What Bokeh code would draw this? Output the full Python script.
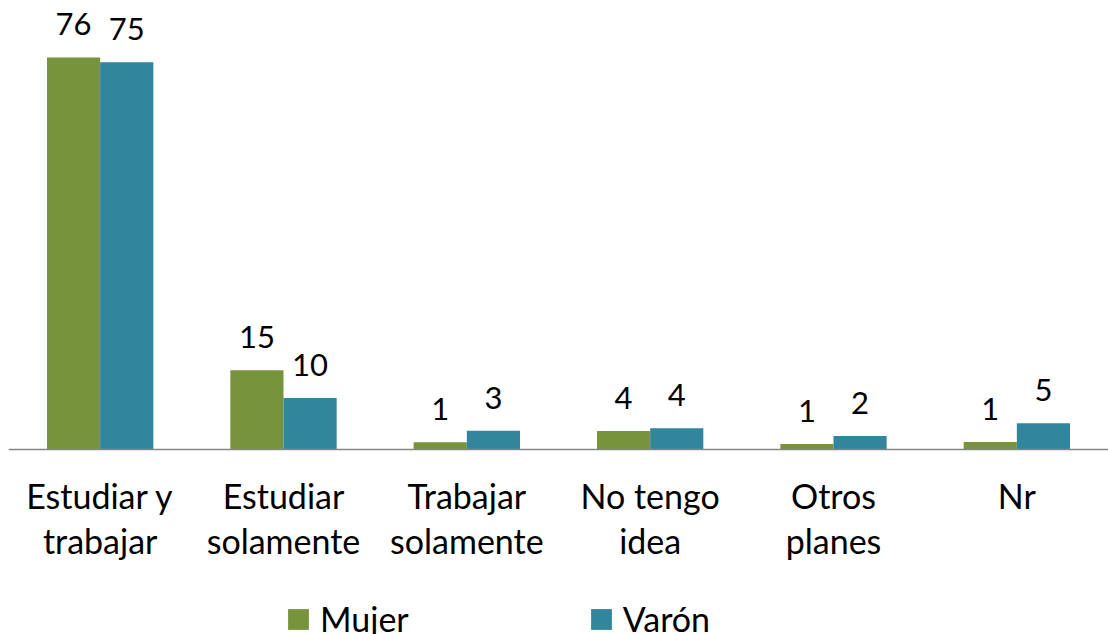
from bokeh.plotting import figure
from bokeh.models import ColumnDataSource, FactorRange, Range1d, Legend, LegendItem, CategoricalAxis
from bokeh.transform import dodge
from bokeh.core.properties import value
from bokeh.embed import file_html
from bokeh.resources import INLINE

categories = ["Estudiar y\ntrabajar", "Estudiar\nsolamente", "Trabajar\nsolamente",
              "No tengo\nidea", "Otros\nplanes", "Nr"]
mujer = [76.0, 15.35, 1.4, 3.6, 1.07, 1.45]
varon = [75.1, 9.98, 3.64, 4.1, 2.6, 5.1]
mujer_labels = ["76", "15", "1", "4", "1", "1"]
varon_labels = ["75", "10", "3", "4", "2", "5"]

GREEN = "#77933C"
TEAL = "#31859C"
FONT = "Lato"
LBL_SIZE = "31px"
CAT_SIZE = "34px"

src = ColumnDataSource(dict(cat=categories, mujer=mujer, varon=varon,
                            ml=mujer_labels, vl=varon_labels))

p = figure(width=1108, height=634, x_range=FactorRange(*categories, range_padding=0),
           y_range=Range1d(-35.87, 87.05), output_backend="svg", toolbar_location=None,
           x_axis_location=None, y_axis_location=None,
           min_border_left=8, min_border_right=0, min_border_top=0, min_border_bottom=0)

r1 = p.vbar(x=dodge("cat", -0.145, range=p.x_range), top="mujer", width=0.29,
            source=src, fill_color=GREEN, line_color=None)
r2 = p.vbar(x=dodge("cat", 0.145, range=p.x_range), top="varon", width=0.29,
            source=src, fill_color=TEAL, line_color=None)

p.text(x=dodge("cat", -0.145, range=p.x_range), y="mujer", text="ml", source=src,
       text_font=value(FONT), text_font_size=LBL_SIZE, text_align="center",
       text_baseline="alphabetic", y_offset=-33, text_color="black")
p.text(x=dodge("cat", 0.145, range=p.x_range), y="varon", text="vl", source=src,
       text_font=value(FONT), text_font_size=LBL_SIZE, text_align="center",
       text_baseline="alphabetic", y_offset=-33, text_color="black")

p.grid.visible = False
p.outline_line_color = None

ax = CategoricalAxis(fixed_location=0)
ax.axis_line_color = "#868686"
ax.axis_line_width = 1.5
ax.major_tick_line_color = None
ax.minor_tick_line_color = None
ax.major_label_text_font = FONT
ax.major_label_text_font_size = CAT_SIZE
ax.major_label_text_color = "black"
ax.major_label_text_line_height = 1.08
ax.major_label_standoff = 20
p.add_layout(ax, "below")

legend = Legend(items=[LegendItem(label="Mujer", renderers=[r1]),
                       LegendItem(label="Varón", renderers=[r2])],
                orientation="horizontal", location=(277, -5),
                glyph_width=26, glyph_height=26, label_standoff=9, spacing=179,
                padding=0, margin=0, background_fill_alpha=0, border_line_color=None,
                label_text_font=FONT, label_text_font_size=CAT_SIZE, label_text_color="black")
p.add_layout(legend, "center")

open("out.html", "w").write(file_html(p, INLINE))
